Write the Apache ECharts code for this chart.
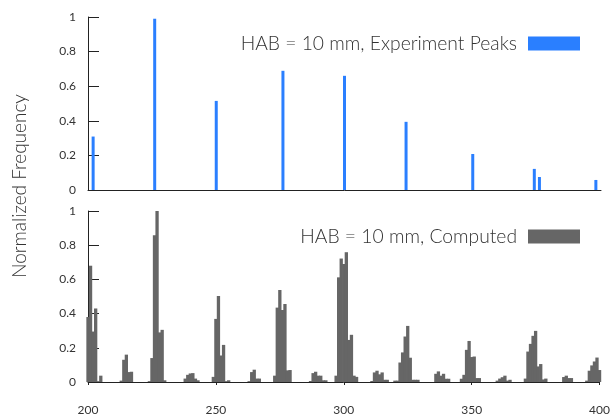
<!DOCTYPE html>
<html>
<head>
<meta charset="utf-8">
<script src="https://cdn.jsdelivr.net/npm/echarts@6/dist/echarts.min.js"></script>
<style>
  html, body { margin: 0; padding: 0; background: #fff; }
  #main { width: 613px; height: 418px; }
</style>
</head>
<body>
<div id="main"></div>
<script>
// experiment peaks (top panel)
var expMass = [202, 226, 250, 276, 300, 324, 350, 374, 376, 398];
var expFreq = [0.309, 0.99, 0.515, 0.689, 0.66, 0.394, 0.208, 0.122, 0.075, 0.058];

// computed spectrum, one bin per mass unit (bottom panel)
var compMass = [200, 201, 202, 203, 204, 205,
  213, 214, 215, 216, 217,
  224, 225, 226, 227, 228, 229, 230,
  238, 239, 240, 241, 242, 243,
  249, 250, 251, 252, 253, 254, 255,
  263, 264, 265, 266, 267,
  273, 274, 275, 276, 277, 278, 279,
  287, 288, 289, 290, 291, 292, 293,
  297, 298, 299, 300, 301, 302, 303, 304, 305,
  311, 312, 313, 314, 315, 316, 317,
  320, 321, 322, 323, 324, 325, 326, 327, 328, 329,
  336, 337, 338, 339, 340, 341,
  346, 347, 348, 349, 350, 351, 352, 353,
  360, 361, 362, 363, 364, 365,
  371, 372, 373, 374, 375, 376, 377, 378, 379,
  386, 387, 388, 389,
  395, 396, 397, 398, 399, 400];
var compFreq = [0.38, 0.68, 0.295, 0.43, 0.005, 0.037,
  0.008, 0.13, 0.16, 0.058, 0.06,
  0.005, 0.14, 0.858, 1.0, 0.29, 0.305, 0.01,
  0.02, 0.042, 0.05, 0.052, 0.02, 0.01,
  0.03, 0.369, 0.503, 0.155, 0.217, 0.005, 0.01,
  0.005, 0.058, 0.072, 0.02, 0.02,
  0.037, 0.435, 0.538, 0.421, 0.456, 0.068, 0.07,
  0.006, 0.052, 0.06, 0.037, 0.037, 0.01, 0.01,
  0.037, 0.612, 0.722, 0.69, 0.759, 0.246, 0.276, 0.037, 0.03,
  0.006, 0.056, 0.066, 0.045, 0.056, 0.013, 0.013,
  0.008, 0.008, 0.114, 0.173, 0.266, 0.328, 0.142, 0.013, 0.013, 0.013,
  0.048, 0.062, 0.037, 0.048, 0.019, 0.019,
  0.019, 0.042, 0.188, 0.24, 0.146, 0.149, 0.023, 0.023,
  0.008, 0.02, 0.028, 0.037, 0.008, 0.013,
  0.02, 0.178, 0.223, 0.27, 0.299, 0.091, 0.105, 0.015, 0.02,
  0.029, 0.037, 0.023, 0.023,
  0.008, 0.066, 0.097, 0.12, 0.143, 0.07];

var expName = 'HAB = 10 mm, Experiment Peaks';
var compName = 'HAB = 10 mm, Computed';

var font = 'Lato';
var textColor = '#333';

function pairs(xs, ys) {
  return xs.map(function (x, i) { return [x, ys[i]]; });
}

function yAxisOpt(gridIndex) {
  return {
    type: 'value', gridIndex: gridIndex,
    min: 0, max: 1, interval: 0.2,
    axisLine: { show: true, lineStyle: { color: '#222' } },
    axisTick: { show: true, inside: true, length: 11, lineStyle: { color: '#222' } },
    axisLabel: { color: textColor, fontFamily: font, fontSize: 12, margin: 12 },
    splitLine: { show: false }
  };
}

function legendOpt(name, top) {
  return {
    data: [name], right: 28, top: top, align: 'right',
    icon: 'rect', itemWidth: 52, itemHeight: 14,
    textStyle: { color: textColor, fontFamily: font, fontSize: 19.3, fontWeight: 300, padding: [0, 6, 0, 0] }
  };
}

var chart = echarts.init(document.getElementById('main'));
chart.setOption({
  animation: false,
  grid: [
    { left: 88, right: 12, top: 17, height: 173 },
    { left: 88, right: 12, top: 211, height: 171 }
  ],
  xAxis: [
    {
      type: 'value', gridIndex: 0, min: 200, max: 400,
      axisLine: { lineStyle: { color: '#222' } },
      axisTick: { show: false }, axisLabel: { show: false },
      splitLine: { show: false }
    },
    {
      type: 'value', gridIndex: 1, min: 200, max: 400, interval: 50,
      axisLine: { lineStyle: { color: '#222' } },
      axisTick: { show: true, length: 3, lineStyle: { color: '#222' } },
      axisLabel: { color: textColor, fontFamily: font, fontSize: 12, margin: 22 },
      splitLine: { show: false }
    }
  ],
  yAxis: [yAxisOpt(0), yAxisOpt(1)],
  legend: [legendOpt(expName, 29), legendOpt(compName, 222)],
  graphic: [{
    type: 'text', rotation: Math.PI / 2,
    x: 20, y: 186,
    style: {
      text: 'Normalized Frequency', fill: textColor,
      font: '300 19px Lato', textAlign: 'center', textVerticalAlign: 'middle'
    }
  }],
  series: [
    {
      name: expName, type: 'bar', xAxisIndex: 0, yAxisIndex: 0,
      barWidth: 3, itemStyle: { color: '#2a7fff' },
      data: pairs(expMass, expFreq)
    },
    {
      name: compName, type: 'bar', xAxisIndex: 1, yAxisIndex: 1,
      barWidth: 3.3, itemStyle: { color: '#666666' },
      data: pairs(compMass, compFreq)
    }
  ]
});
</script>
</body>
</html>
